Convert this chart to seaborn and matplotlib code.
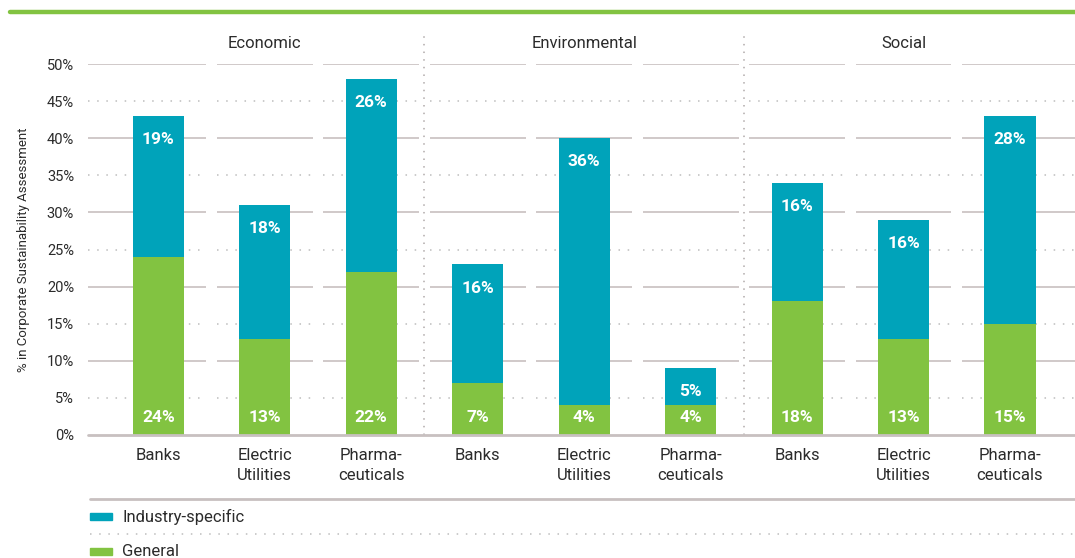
import matplotlib
matplotlib.use("Agg")
import matplotlib.pyplot as plt
import seaborn as sns
import pandas as pd
from matplotlib.lines import Line2D
from matplotlib.patches import Rectangle

groups = ["Economic", "Environmental", "Social"]
industries = ["Banks", "Electric\nUtilities", "Pharma-\nceuticals"]
general = [24, 13, 22, 7, 4, 4, 18, 13, 15]
industry_specific = [19, 18, 26, 16, 36, 5, 16, 16, 28]
yticks = [0, 5, 10, 15, 20, 25, 30, 35, 40, 45, 50]
series_names = ["Industry-specific", "General"]

TEAL = "#00A3BA"
GREEN = "#82C341"
GRID = "#C8C0C0"
TEXT = "#2B2B2B"

sns.set_theme(style="white")
plt.rcParams["font.family"] = ["Roboto", "DejaVu Sans"]

keys, cats, grp = [], [], []
for g in groups:
    for ind in industries:
        keys.append(f"{g}|{ind}")
        cats.append(ind)
        grp.append(g)
df = pd.DataFrame({"key": keys, "cat": cats, "group": grp,
                   "general": general, "industry": industry_specific})
df["total"] = df["general"] + df["industry"]

fig = plt.figure(figsize=(10.75, 5.58), dpi=100)
ax = fig.add_axes([88 / 1075, 123 / 558, 987 / 1075, 371 / 558])

sns.barplot(data=df, x="key", y="total", order=keys, color=TEAL, width=0.48,
            saturation=1, ax=ax, zorder=3, linewidth=0, edgecolor="none")
sns.barplot(data=df, x="key", y="general", order=keys, color=GREEN, width=0.48,
            saturation=1, ax=ax, zorder=4, linewidth=0, edgecolor="none")

n = len(keys)
xmin, xmax = -0.66, n - 1 + 0.61
ax.set_xlim(xmin, xmax)
ax.set_ylim(0, 50)

# segmented gridlines
for yv in yticks[1:]:
    for i in range(n):
        x0 = xmin if i == 0 else i - 0.45
        x1 = xmax if i == n - 1 else i + 0.45
        if yv % 10 == 0:
            ax.plot([x0, x1], [yv, yv], color=GRID, lw=1.2, zorder=1,
                    solid_capstyle="butt")
        else:
            ax.plot([x0, x1], [yv, yv], color="#BDBDBD", lw=1.1, zorder=1,
                    linestyle=(0, (1, 5)))
ax.plot([xmin, xmax], [0, 0], color=GRID, lw=2, zorder=5, clip_on=False)

# group separators
for xs in [2.5, 5.5]:
    ax.plot([xs, xs], [0, 54], color="#B0AAAA", lw=1.1, linestyle=(0, (1, 4)),
            clip_on=False, zorder=1)

for s in ax.spines.values():
    s.set_visible(False)

ax.set_yticks(yticks)
ax.set_yticklabels([f"{v}%" for v in yticks], fontsize=10.5, color=TEXT)
ax.tick_params(axis="y", length=0, pad=10)
ax.set_xticks(range(n))
ax.set_xticklabels(cats, fontsize=12, color=TEXT, linespacing=1.45)
ax.tick_params(axis="x", length=0, pad=9)
ax.set_xlabel("")
ax.set_ylabel("% in Corporate Sustainability Assessment", fontsize=9.5, color=TEXT,
              labelpad=12)

# group titles
for gi, g in enumerate(groups):
    ax.text(gi * 3 + 1, 52.8, g, ha="center", va="center", fontsize=12,
            color=TEXT)

# bar value labels
for i, row in df.iterrows():
    ax.text(i, row["total"] - 3.2, f"{row['industry']}%", ha="center",
            va="center", color="white", fontsize=12.5, fontweight="bold", zorder=6)
    ax.text(i, 2.3, f"{row['general']}%", ha="center", va="center",
            color="white", fontsize=12.5, fontweight="bold", zorder=6)

# top green rule
fig.add_artist(Line2D([10 / 1075, 1.0], [1 - 12 / 558, 1 - 12 / 558],
                      color=GREEN, lw=3.2, transform=fig.transFigure))

# legend area
fig.add_artist(Line2D([90 / 1075, 1.0], [1 - 499 / 558, 1 - 499 / 558],
                      color=GRID, lw=2, transform=fig.transFigure))
fig.add_artist(Line2D([90 / 1075, 1.0], [1 - 534 / 558, 1 - 534 / 558],
                      color="#BDBDBD", lw=1.1, linestyle=(0, (1, 5)),
                      transform=fig.transFigure))
for yc, col, name in [(517, TEAL, series_names[0]), (552, GREEN, series_names[1])]:
    fig.add_artist(Rectangle((90 / 1075, 1 - (yc + 3) / 558), 22 / 1075, 7 / 558,
                             color=col, transform=fig.transFigure))
    fig.text(122 / 1075, 1 - yc / 558, name, ha="left", va="center",
             fontsize=12, color=TEXT)

fig.savefig("out.png", dpi=100)
